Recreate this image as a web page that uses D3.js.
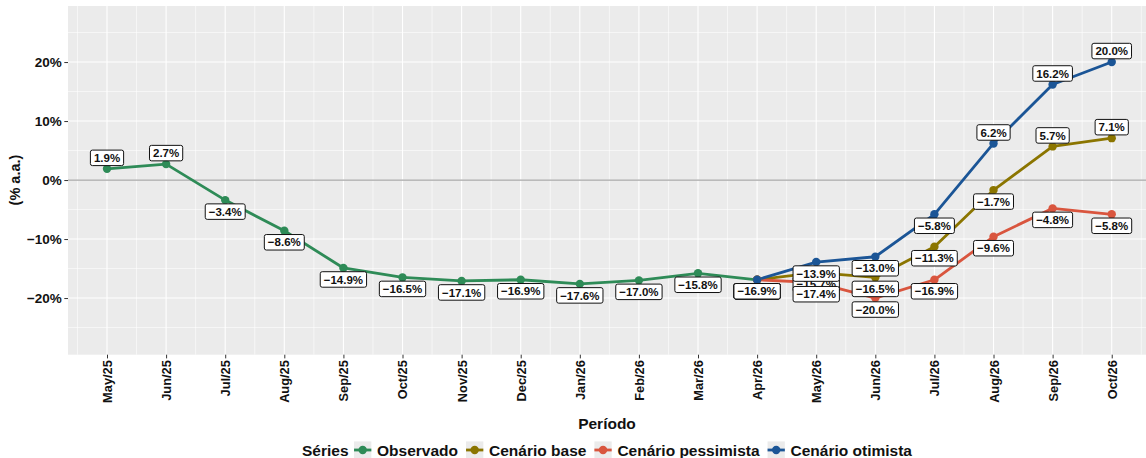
<!DOCTYPE html>
<html>
<head>
<meta charset="utf-8">
<script src="https://cdn.jsdelivr.net/npm/d3@7"></script>
<style>
  body { margin: 0; background: #fff; }
  text { font-family: "Liberation Sans", Arial, sans-serif; font-weight: bold; }
</style>
</head>
<body>
<svg id="chart" width="1146" height="458"></svg>
<script>
// months on the x axis
const periods = ["May/25", "Jun/25", "Jul/25", "Aug/25", "Sep/25", "Oct/25",
  "Nov/25", "Dec/25", "Jan/26", "Feb/26", "Mar/26", "Apr/26",
  "May/26", "Jun/26", "Jul/26", "Aug/26", "Sep/26", "Oct/26"];

const observadoPeriods = periods.slice(0, 12);
const observado = [1.9, 2.7, -3.4, -8.6, -14.9, -16.5, -17.1, -16.9, -17.6, -17.0, -15.8, -16.9];

// scenarios start from the last observed month
const scenarioPeriods = ["Apr/26", "May/26", "Jun/26", "Jul/26", "Aug/26", "Sep/26", "Oct/26"];
const base = [-16.9, -15.7, -16.5, -11.3, -1.7, 5.7, 7.1];
const pessimista = [-16.9, -17.4, -20.0, -16.9, -9.6, -4.8, -5.8];
const otimista = [-16.9, -13.9, -13.0, -5.8, 6.2, 16.2, 20.0];

const yTicks = [-20, -10, 0, 10, 20];
const yMinor = [-25, -15, -5, 5, 15, 25];

const seriesNames = ["Observado", "Cenário base", "Cenário pessimista", "Cenário otimista"];
const seriesColors = ["#2e8b57", "#8b7500", "#d9553e", "#1b5596"];

const series = [
  { name: seriesNames[0], color: seriesColors[0], pts: observadoPeriods.map((p, i) => ({ p, v: observado[i] })) },
  { name: seriesNames[1], color: seriesColors[1], pts: scenarioPeriods.map((p, i) => ({ p, v: base[i] })) },
  { name: seriesNames[2], color: seriesColors[2], pts: scenarioPeriods.map((p, i) => ({ p, v: pessimista[i] })) },
  { name: seriesNames[3], color: seriesColors[3], pts: scenarioPeriods.map((p, i) => ({ p, v: otimista[i] })) }
];

const panel = { left: 68, right: 1146, top: 6, bottom: 354.7 };
const svg = d3.select("#chart");

const x = d3.scaleLinear()
  .domain([-0.66, periods.length - 1 + 0.58])
  .range([panel.left, panel.right]);
const xi = p => x(periods.indexOf(p));
const y = d3.scaleLinear()
  .domain([-29.6, 29.5])
  .range([panel.bottom, panel.top]);

const fmt = v => (v.toFixed(1) + "%").replace("-", "\u2212");

// panel background + grid
svg.append("rect")
  .attr("x", panel.left).attr("y", panel.top)
  .attr("width", panel.right - panel.left).attr("height", panel.bottom - panel.top)
  .attr("fill", "#ebebeb");

const grid = svg.append("g").attr("stroke", "#fff");
grid.selectAll(".hminor").data(yMinor).join("line")
  .attr("x1", panel.left).attr("x2", panel.right)
  .attr("y1", d => y(d)).attr("y2", d => y(d))
  .attr("stroke-width", 0.6);
grid.selectAll(".vminor").data(d3.range(-1, periods.length)).join("line")
  .attr("x1", d => x(d + 0.5)).attr("x2", d => x(d + 0.5))
  .attr("y1", panel.top).attr("y2", panel.bottom)
  .attr("stroke-width", 0.6);
grid.append("g").selectAll("line").data(yTicks).join("line")
  .attr("x1", panel.left).attr("x2", panel.right)
  .attr("y1", d => y(d)).attr("y2", d => y(d))
  .attr("stroke-width", 1.1);
grid.append("g").selectAll("line").data(periods).join("line")
  .attr("x1", d => xi(d)).attr("x2", d => xi(d))
  .attr("y1", panel.top).attr("y2", panel.bottom)
  .attr("stroke-width", 1.1);

// zero reference line
svg.append("line")
  .attr("x1", panel.left).attr("x2", panel.right)
  .attr("y1", y(0)).attr("y2", y(0))
  .attr("stroke", "#a6a6a6").attr("stroke-width", 1.3);

// axes
const yAxis = svg.append("g").attr("transform", `translate(${panel.left},0)`)
  .call(d3.axisLeft(y).tickValues(yTicks).tickSize(3.7).tickPadding(2.5).tickFormat(d => (d + "%").replace("-", "\u2212")));
yAxis.select(".domain").remove();
yAxis.selectAll("line").attr("stroke", "#333");
yAxis.selectAll("text").attr("font-size", 13.5).attr("fill", "#111")
  .attr("font-family", null);

const xAxis = svg.append("g").attr("transform", `translate(0,${panel.bottom})`)
  .call(d3.axisBottom(x).tickValues(d3.range(periods.length)).tickSize(3.7).tickFormat(i => periods[i]));
xAxis.select(".domain").remove();
xAxis.selectAll("line").attr("stroke", "#333");
xAxis.selectAll("text")
  .attr("font-size", 12.8).attr("fill", "#111").attr("font-family", null)
  .attr("text-anchor", "end")
  .attr("transform", "translate(0,5.5) rotate(-90)")
  .attr("x", 0).attr("y", 0).attr("dy", "0.35em");

svg.append("text")
  .attr("x", (panel.left + panel.right) / 2).attr("y", 429)
  .attr("text-anchor", "middle").attr("font-size", 15.5).attr("fill", "#111")
  .text("Período");

svg.append("text")
  .attr("transform", `translate(20,${y(0)}) rotate(-90)`)
  .attr("text-anchor", "middle").attr("font-size", 14.5).attr("fill", "#111")
  .text("(% a.a.)");

// lines, then points, then labels
const line = d3.line().x(d => xi(d.p)).y(d => y(d.v));
svg.append("g").selectAll("path").data(series).join("path")
  .attr("d", d => line(d.pts))
  .attr("fill", "none")
  .attr("stroke", d => d.color)
  .attr("stroke-width", 2.8)
  .attr("stroke-linejoin", "round");

svg.append("g").selectAll("g").data(series).join("g")
  .attr("fill", d => d.color)
  .selectAll("circle").data(d => d.pts).join("circle")
  .attr("cx", d => xi(d.p)).attr("cy", d => y(d.v)).attr("r", 4.2);

const labelG = svg.append("g");
series.forEach(s => {
  s.pts.forEach(d => {
    const cy = y(d.v) + (d.v >= 0 ? -11 : 11.5);
    const g = labelG.append("g").attr("transform", `translate(${xi(d.p)},${cy})`);
    const r = g.append("rect");
    const t = g.append("text")
      .attr("text-anchor", "middle").attr("dy", "0.36em")
      .attr("font-size", 11.5).attr("fill", "#111")
      .text(fmt(d.v));
    const w = t.node().getComputedTextLength() + 7;
    const h = 15.5;
    r.attr("x", -w / 2).attr("y", -h / 2).attr("width", w).attr("height", h)
      .attr("rx", 2).attr("fill", "#fff").attr("stroke", "#111").attr("stroke-width", 1);
  });
});

// legend
const legend = svg.append("g");
const ly = 450;
const title = legend.append("text")
  .attr("x", 0).attr("y", ly).attr("dy", "0.36em")
  .attr("font-size", 15.5).attr("fill", "#111").text("Séries");
let cx = title.node().getComputedTextLength() + 5.5;
series.forEach(s => {
  const item = legend.append("g").attr("transform", `translate(${cx},0)`);
  item.append("rect").attr("x", 0).attr("y", ly - 8.6).attr("width", 17.3).attr("height", 17.3)
    .attr("fill", "#ebebeb");
  item.append("line").attr("x1", 0).attr("x2", 17.3).attr("y1", ly).attr("y2", ly)
    .attr("stroke", s.color).attr("stroke-width", 2.8);
  item.append("circle").attr("cx", 8.65).attr("cy", ly).attr("r", 4.2).attr("fill", s.color);
  const t = item.append("text").attr("x", 23).attr("y", ly).attr("dy", "0.36em")
    .attr("font-size", 15.5).attr("fill", "#111").text(s.name);
  cx += 23 + t.node().getComputedTextLength() + 8;
});
const lw = cx - 8;
legend.attr("transform", `translate(${(panel.left + panel.right) / 2 - lw / 2},0)`);
</script>
</body>
</html>
